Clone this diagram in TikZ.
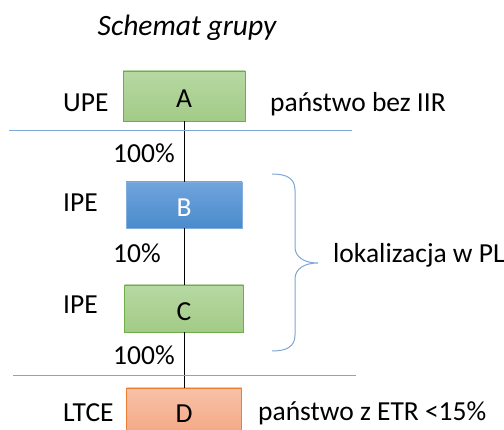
\documentclass[tikz,border=0pt]{standalone}
\usepackage{fontspec}
\setmainfont{Carlito}

\definecolor{grtop}{HTML}{B7D8A3}
\definecolor{grbot}{HTML}{A2CB87}
\definecolor{grline}{HTML}{70AD47}
\definecolor{bltop}{HTML}{70A4DC}
\definecolor{blbot}{HTML}{4A8BCC}
\definecolor{blline}{HTML}{82ADDE}
\definecolor{ortop}{HTML}{F7C2A8}
\definecolor{orbot}{HTML}{F4A886}
\definecolor{orline}{HTML}{ED7D31}
\definecolor{sepblue}{HTML}{7EA6D8}

\tikzset{
  box/.style={draw, line width=0.9pt, minimum height=47pt, inner sep=0pt, text height=24pt, text depth=0pt},
  greenbox/.style={box, draw=grline, top color=grtop, bottom color=grbot},
  bluebox/.style={box, draw=blline, top color=bltop, bottom color=blbot, text=white},
  orangebox/.style={box, draw=orline, top color=ortop, bottom color=orbot},
  lbl/.style={anchor=base west, inner sep=0pt},
  sep/.style={draw=sepblue, line width=1pt},
  link/.style={draw=black, line width=1pt}
}

\begin{document}
\begin{tikzpicture}[x=1pt,y=-1pt,font=\fontsize{27.5}{32}\selectfont]
\useasboundingbox (0,0) rectangle (504,430);

\node[anchor=base, inner sep=0pt, font=\fontsize{29.5}{34}\selectfont\itshape] (title) at (187,36) {Schemat grupy};

% boxes
\node[greenbox, minimum width=122pt, minimum height=50pt] (A) at (184,96) {A};
\node[bluebox, minimum width=116pt, minimum height=46pt] (B) at (184,205) {B};
\node[greenbox, minimum width=119pt] (C) at (184,308.5) {C};
\node[orangebox, minimum width=115pt, minimum height=46pt] (D) at (184,411) {D};

% labels
\node[lbl] (upe) at (63,112) {UPE};
\node[lbl] (ipeb) at (63,212) {IPE};
\node[lbl] (ipec) at (63,314) {IPE};
\node[lbl] (ltce) at (63,422) {LTCE};
\node[lbl] (pab) at (113,163) {100\%};
\node[lbl] (pbc) at (113,263) {10\%};
\node[lbl] (pcd) at (113,365) {100\%};
\node[lbl] (nota) at (270,112) {państwo bez IIR};
\node[lbl] (notd) at (258,421) {państwo z ETR <15\%};
\node[lbl] (pl) at (333,263) {lokalizacja w PL};

\draw[link] (A) -- (B);
\draw[link] (B) -- (C);
\draw[link] (C) -- (D);

\coordinate (s1a) at (9,131);
\coordinate (s1b) at (352,131);
\coordinate (s2a) at (13,376);
\coordinate (s2b) at (356,376);
\draw[sep] (s1a) -- (s1b);
\draw[sep] (s2a) -- (s2b);

% brace
\coordinate (bt) at (272,174);
\coordinate (bb) at (272,351);
\draw[sep] (bt) .. controls (286,174) and (295,178) .. (295,190) -- (295,247)
  .. controls (295,257) and (304,263) .. (318,263)
  .. controls (304,263) and (295,269) .. (295,279) -- (295,335)
  .. controls (295,347) and (286,351) .. (bb);
\end{tikzpicture}
\end{document}
